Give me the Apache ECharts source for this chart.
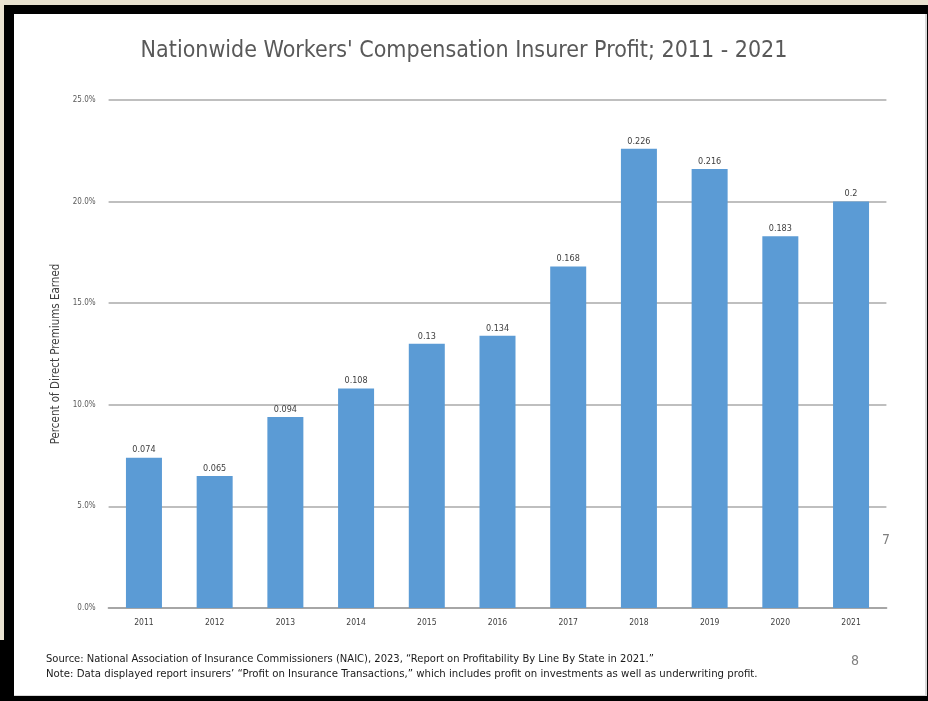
<!DOCTYPE html>
<html><head><meta charset="utf-8">
<script src="https://cdn.jsdelivr.net/npm/echarts@6/dist/echarts.min.js"></script>
<style>html,body{margin:0;padding:0;background:#000;}#c{width:928px;height:701px;}</style>
</head><body><div id="c"></div>
<script>
const years = ['2011','2012','2013','2014','2015','2016','2017','2018','2019','2020','2021'];
const profit = [0.074,0.065,0.094,0.108,0.13,0.134,0.168,0.226,0.216,0.183,0.2];
const titleText = "Nationwide Workers' Compensation Insurer Profit; 2011 - 2021";
const yAxisName = 'Percent of Direct Premiums Earned';
const sourceText = 'Source: National Association of Insurance Commissioners (NAIC), 2023, \u201cReport on Profitability By Line By State in 2021.\u201d';
const noteText = 'Note: Data displayed report insurers\u2019 \u201cProfit on Insurance Transactions,\u201d which includes profit on investments as well as underwriting profit.';
const FONT = "'Liberation Sans Narrow','DejaVu Sans Condensed',sans-serif";

const chart = echarts.init(document.getElementById('c'), null, {renderer:'canvas'});
chart.setOption({
  backgroundColor:'#000',
  animation:false,
  title:{text:titleText,left:'center',top:35,textStyle:{fontFamily:FONT,fontWeight:'normal',fontSize:23,color:'#595959'}},
  graphic:[
    {type:'rect',z:-10,shape:{x:0,y:0,width:928,height:5},style:{fill:'#e9e2d0'}},
    {type:'rect',z:-10,shape:{x:0,y:0,width:4,height:640},style:{fill:'#ebe4d2'}},
    {type:'rect',z:-9,shape:{x:14,y:14,width:913,height:682},style:{fill:'#d9d9d9'}},
    {type:'rect',z:-8,shape:{x:14,y:14,width:911,height:681},style:{fill:'#ffffff'}},
    {type:'rect',z:-9,shape:{x:0,y:697,width:928,height:4},style:{fill:'#000'}},
    {type:'text',left:46,top:654,style:{text:sourceText,font:"11.1px "+FONT,fill:'#1a1a1a'}},
    {type:'text',left:46,top:669,style:{text:noteText,font:"11.3px "+FONT,fill:'#1a1a1a'}},
    {type:'text',left:851,top:654,style:{text:'8',font:"14px "+FONT,fill:'#7f7f7f'}},
    {type:'text',left:882,top:533,style:{text:'7',font:"14px "+FONT,fill:'#7f7f7f'}}
  ],
  grid:{left:108.6,right:41.6,top:100,bottom:93,containLabel:false},
  xAxis:{type:'category',data:years,
    axisLine:{lineStyle:{color:'#a6a6a6',width:2}},
    axisTick:{show:false},
    axisLabel:{fontFamily:FONT,fontSize:8.5,color:'#404040',margin:10}},
  yAxis:{type:'value',min:0,max:0.25,interval:0.05,
    name:yAxisName,nameLocation:'middle',nameGap:39,
    nameTextStyle:{fontFamily:FONT,fontSize:11.5,color:'#404040'},
    axisLine:{show:false},axisTick:{show:false},
    axisLabel:{fontFamily:FONT,fontSize:8,color:'#595959',margin:13,formatter:v=>(v*100).toFixed(1)+'%'},
    splitLine:{lineStyle:{color:'#bfbfbf',width:2}}},
  series:[{type:'bar',data:profit,barWidth:36,
    itemStyle:{color:'#5b9bd5'},
    label:{show:true,position:'top',distance:3,fontFamily:FONT,fontSize:9,color:'#404040',formatter:p=>String(p.value)}}]
});
</script></body></html>
